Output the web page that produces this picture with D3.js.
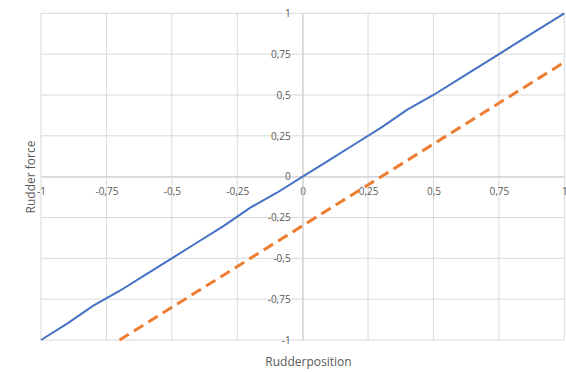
<!DOCTYPE html>
<html>
<head>
<meta charset="utf-8">
<script src="https://cdn.jsdelivr.net/npm/d3@7"></script>
<style>
  body { margin: 0; background: #fff; }
  svg text { font-family: "Open Sans", "Liberation Sans", sans-serif; fill: #595959; }
</style>
</head>
<body>
<svg id="chart" width="566" height="372"></svg>
<script>
var positions  = [-1, -0.9, -0.8, -0.7, -0.6, -0.5, -0.4, -0.3, -0.2, -0.1, 0, 0.1, 0.2, 0.3, 0.4, 0.5, 0.6, 0.7, 0.8, 0.9, 1];
var forceA     = [-1, -0.9, -0.79, -0.7, -0.6, -0.5, -0.4, -0.3, -0.19, -0.1, 0, 0.1, 0.2, 0.3, 0.41, 0.5, 0.6, 0.7, 0.8, 0.9, 1];
var positionsB = [-0.7, -0.6, -0.5, -0.4, -0.3, -0.2, -0.1, 0, 0.1, 0.2, 0.3, 0.4, 0.5, 0.6, 0.7, 0.8, 0.9, 1];
var forceB     = [-1, -0.9, -0.8, -0.7, -0.6, -0.5, -0.4, -0.3, -0.2, -0.1, 0, 0.1, 0.2, 0.3, 0.4, 0.5, 0.6, 0.7];
var xTicks     = [-1, -0.75, -0.5, -0.25, 0, 0.25, 0.5, 0.75, 1];
var yTicks     = [-1, -0.75, -0.5, -0.25, 0, 0.25, 0.5, 0.75, 1];

var svg = d3.select('svg#chart');
var x = d3.scaleLinear().domain([-1, 1]).range([41, 564.3]);
var y = d3.scaleLinear().domain([-1, 1]).range([340, 13.3]);

function comma(d) { return String(d).replace('.', ','); }

// grid
svg.append('g').selectAll('line').data(xTicks).enter()
  .append('line')
    .attr('x1', x).attr('x2', x)
    .attr('y1', y(-1)).attr('y2', y(1))
    .attr('stroke', '#d9d9d9').attr('stroke-width', 1)
;
svg.append('g').selectAll('line').data(yTicks).enter()
  .append('line')
    .attr('y1', y).attr('y2', y)
    .attr('x1', x(-1)).attr('x2', x(1))
    .attr('stroke', '#d9d9d9').attr('stroke-width', 1)
;

// axes through the origin, labels only
var xAxis = svg.append('g')
  .attr('transform', 'translate(0,' + y(0) + ')')
  .call(d3.axisBottom(x).tickValues(xTicks).tickSize(0).tickPadding(11).tickFormat(comma));
var yAxis = svg.append('g')
  .attr('transform', 'translate(' + x(0) + ',0)')
  .call(d3.axisLeft(y).tickValues(yTicks).tickSize(0).tickPadding(12).tickFormat(comma));

[xAxis, yAxis].forEach(function (a) {
  a.select('.domain').attr('stroke', '#d0d0d0');
  a.selectAll('text').attr('font-size', '10px').attr('font-family', null).attr('fill', '#595959');
});

// series
var line = d3.line().x(function (d) { return x(d[0]); }).y(function (d) { return y(d[1]); });

svg.append('path')
  .datum(d3.zip(positions, forceA))
  .attr('d', line)
  .attr('fill', 'none')
  .attr('stroke', '#4472c4')
  .attr('stroke-width', 2)
;
svg.append('path')
  .datum(d3.zip(positionsB, forceB))
  .attr('d', line)
  .attr('fill', 'none')
  .attr('stroke', '#ed7d31')
  .attr('stroke-width', 3)
  .attr('stroke-dasharray', '11,6')
;

// titles
svg.append('text')
  .attr('x', 308.5).attr('y', 366)
  .attr('text-anchor', 'middle')
  .attr('font-size', '12px')
  .text('Rudderposition')
;
svg.append('text')
  .attr('transform', 'translate(35,177) rotate(-90)')
  .attr('text-anchor', 'middle')
  .attr('font-size', '12px')
  .text('Rudder force')
;
</script>
</body>
</html>
